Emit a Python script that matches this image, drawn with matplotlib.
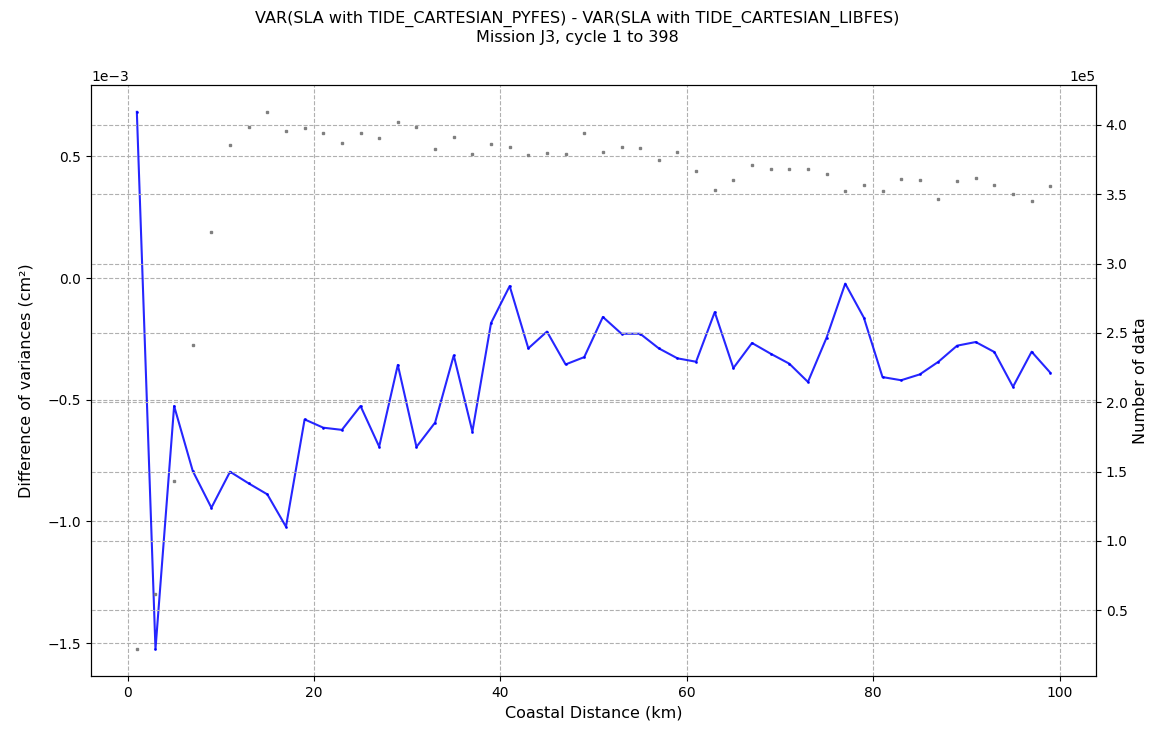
import numpy as np
import matplotlib
matplotlib.use("Agg")
import matplotlib.pyplot as plt

# coastal distance bins (km)
distance = np.arange(1, 100, 2)

# VAR(pyfes) - VAR(libfes), cm^2
var_diff = np.array([
    0.683e-3, -1.525e-3, -0.526e-3, -0.793e-3, -0.944e-3, -0.796e-3, -0.844e-3, -0.889e-3, -1.022e-3, -0.581e-3,
    -0.615e-3, -0.624e-3, -0.526e-3, -0.693e-3, -0.357e-3, -0.694e-3, -0.594e-3, -0.318e-3, -0.631e-3, -0.185e-3,
    -0.033e-3, -0.289e-3, -0.220e-3, -0.355e-3, -0.325e-3, -0.160e-3, -0.229e-3, -0.229e-3, -0.289e-3, -0.330e-3,
    -0.344e-3, -0.140e-3, -0.370e-3, -0.267e-3, -0.311e-3, -0.352e-3, -0.427e-3, -0.245e-3, -0.023e-3, -0.163e-3,
    -0.407e-3, -0.420e-3, -0.396e-3, -0.344e-3, -0.278e-3, -0.263e-3, -0.304e-3, -0.447e-3, -0.303e-3, -0.389e-3,
])

# number of valid measurements per bin
n_data = np.array([
    0.220, 0.614, 1.435, 2.415, 3.229, 3.854, 3.988, 4.094, 3.959, 3.978,
    3.942, 3.870, 3.942, 3.906, 4.022, 3.988, 3.827, 3.916, 3.791, 3.863,
    3.837, 3.782, 3.798, 3.791, 3.942, 3.808, 3.844, 3.834, 3.746, 3.808,
    3.664, 3.532, 3.604, 3.709, 3.683, 3.683, 3.683, 3.647, 3.522, 3.568,
    3.520, 3.611, 3.604, 3.469, 3.594, 3.620, 3.568, 3.505, 3.450, 3.558,
]) * 1e5

fig, ax = plt.subplots(figsize=(11.54, 7.30), dpi=100)
fig.subplots_adjust(left=0.079, right=0.9497, top=0.8836, bottom=0.074)

ax.plot(distance, var_diff, color="blue", alpha=0.85, lw=1.5, marker=".", ms=2)
ax.set_xlabel("Coastal Distance (km)", fontsize=11.5)
ax.set_ylabel("Difference of variances (cm²)", fontsize=11.5, labelpad=10)
ax.ticklabel_format(axis="y", style="sci", scilimits=(0, 0))
ax.grid(True, linestyle="--", color="#b0b0b0")

ax2 = ax.twinx()
ax2.plot(distance, n_data, linestyle="none", marker="s", ms=2, color="grey")
ax2.set_ylabel("Number of data", fontsize=11.5)
ax2.ticklabel_format(axis="y", style="sci", scilimits=(0, 0))
ax2.grid(True, linestyle="--", color="#b0b0b0")

fig.suptitle("VAR(SLA with TIDE_CARTESIAN_PYFES) - VAR(SLA with TIDE_CARTESIAN_LIBFES)\n"
             "Mission J3, cycle 1 to 398", fontsize=11.5, y=0.985)

fig.savefig("out.png", dpi=100)
